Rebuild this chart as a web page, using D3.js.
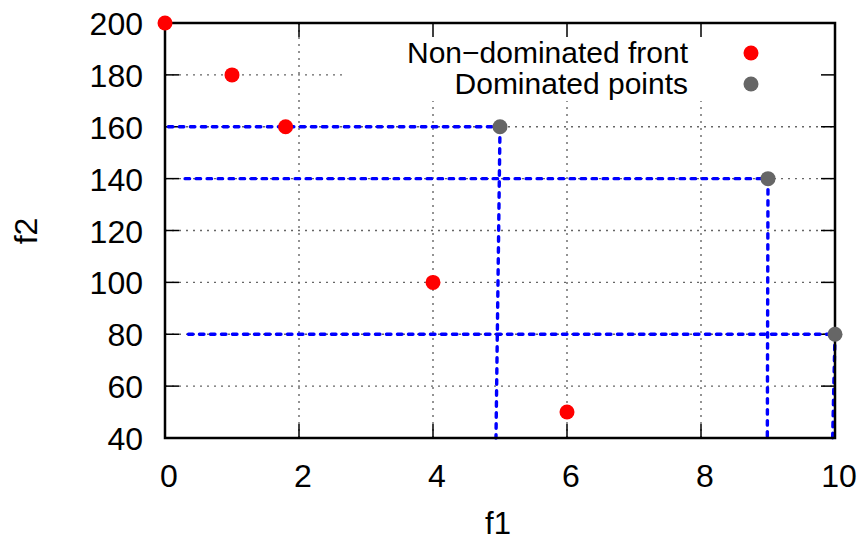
<!DOCTYPE html>
<meta charset="utf-8">
<style>
body { margin: 0; background: #fff; }
text { font-family: "Liberation Sans", Arial, sans-serif; fill: #000; }
.grid line { stroke: #666; stroke-width: 1.4; stroke-dasharray: 2,5; }
.ticks line { stroke: #000; stroke-width: 1.5; }
.dom line { stroke: #0000ff; stroke-width: 3.4; stroke-dasharray: 4.5,6.5; stroke-linecap: round; }
</style>
<svg width="860" height="541"></svg>
<script src="https://d3js.org/d3.v7.min.js"></script>
<script>
// non-dominated front (red)
var frontF1 = [0, 1, 1.8, 4, 6];
var frontF2 = [200, 180, 160, 100, 50];
// dominated points (gray)
var domF1 = [5, 9, 10];
var domF2 = [160, 140, 80];
// where the blue dashed guides start (left) and end (bottom)
var guideStartF1 = [0.05, 0.3, 0.35];
var guideEndF1 = [4.94, 8.99, 9.965];

var xTicks = [0, 2, 4, 6, 8, 10];
var yTicks = [40, 60, 80, 100, 120, 140, 160, 180, 200];
var legendLabels = ["Non\u2212dominated front", "Dominated points"];

var svg = d3.select("svg");
var pLeft = 165, pRight = 835, pTop = 23, pBottom = 438;

var x = d3.scaleLinear().domain([0, 10]).range([pLeft, pRight]);
var y = d3.scaleLinear().domain([40, 200]).range([pBottom, pTop]);

//grid
var grid = svg.append("g").attr("class", "grid");
grid.selectAll(".gx").data(xTicks.slice(1, -1)).enter().append("line")
    .attr("x1", d => x(d)).attr("x2", d => x(d))
    .attr("y1", pTop).attr("y2", pBottom);
grid.selectAll(".gy").data(yTicks.slice(1, -1)).enter().append("line")
    .attr("x1", pLeft).attr("x2", pRight)
    .attr("y1", d => y(d)).attr("y2", d => y(d));

// key box hides the grid behind it
svg.append("rect").attr("x", 342).attr("y", pTop).attr("width", pRight - 342).attr("height", 101 - pTop)
    .attr("fill", "#fff");

// ticks on all four sides, pointing inward
var tl = 14;
var ticks = svg.append("g").attr("class", "ticks");
xTicks.forEach(function(d) {
  ticks.append("line").attr("x1", x(d)).attr("x2", x(d)).attr("y1", pBottom).attr("y2", pBottom - tl);
  ticks.append("line").attr("x1", x(d)).attr("x2", x(d)).attr("y1", pTop).attr("y2", pTop + tl);
});
yTicks.forEach(function(d) {
  ticks.append("line").attr("x1", pLeft).attr("x2", pLeft + tl).attr("y1", y(d)).attr("y2", y(d));
  ticks.append("line").attr("x1", pRight).attr("x2", pRight - tl).attr("y1", y(d)).attr("y2", y(d));
});

// blue dashed guides for dominated points
var dom = svg.append("g").attr("class", "dom");
domF1.forEach(function(d, i) {
  dom.append("line").attr("x1", x(guideStartF1[i])).attr("x2", x(d))
      .attr("y1", y(domF2[i])).attr("y2", y(domF2[i]));
  dom.append("line").attr("x1", x(d)).attr("x2", x(guideEndF1[i]))
      .attr("y1", y(domF2[i])).attr("y2", y(40));
});

// border
svg.append("rect").attr("x", pLeft).attr("y", pTop).attr("width", pRight - pLeft).attr("height", pBottom - pTop)
    .attr("fill", "none").attr("stroke", "#000").attr("stroke-width", 2.5);

// tick labels
svg.selectAll(".xl").data(xTicks).enter().append("text")
    .attr("x", d => x(d) + 4).attr("y", 487)
    .attr("text-anchor", "middle").attr("font-size", 32)
    .text(d => d);
svg.selectAll(".yl").data(yTicks).enter().append("text")
    .attr("x", 143).attr("y", d => y(d) + 12)
    .attr("text-anchor", "end").attr("font-size", 32)
    .text(d => d);

// axis titles
svg.append("text").attr("x", 498).attr("y", 534).attr("text-anchor", "middle")
    .attr("font-size", 31).text("f1");
svg.append("text").attr("transform", "translate(37,231) rotate(-90)").attr("text-anchor", "middle")
    .attr("font-size", 32).text("f2");

// points
svg.selectAll(".front").data(frontF1).enter().append("circle")
    .attr("cx", d => x(d)).attr("cy", (d, i) => y(frontF2[i])).attr("r", 7.5)
    .attr("fill", "#ff0000");
svg.selectAll(".domp").data(domF1).enter().append("circle")
    .attr("cx", d => x(d)).attr("cy", (d, i) => y(domF2[i])).attr("r", 7.5)
    .attr("fill", "#666666");

// legend
var legColors = ["#ff0000", "#666666"];
legendLabels.forEach(function(t, i) {
  svg.append("text").attr("x", 688).attr("y", 63 + i * 31).attr("text-anchor", "end")
      .attr("font-size", 30).text(t);
  svg.append("circle").attr("cx", 751).attr("cy", 53 + i * 31).attr("r", 7.5)
      .attr("fill", legColors[i]);
});
</script>
